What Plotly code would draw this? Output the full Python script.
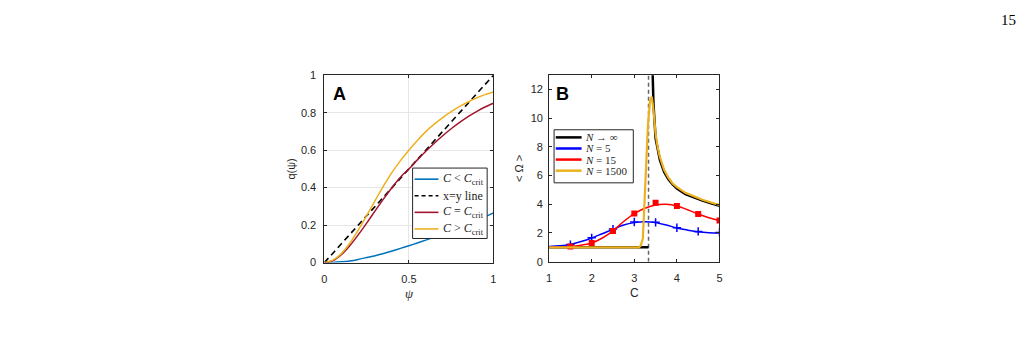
import plotly.graph_objects as go

W, H = 1028, 340

# ---------------- Panel A data ----------------
psi = [0.00, 0.05, 0.10, 0.15, 0.20, 0.25, 0.30, 0.35, 0.40, 0.45, 0.50,
       0.55, 0.60, 0.65, 0.70, 0.75, 0.80, 0.85, 0.90, 0.95, 1.00]
q_below = [0.000, 0.001, 0.004, 0.009, 0.017, 0.027, 0.037, 0.049, 0.062, 0.076, 0.090,
           0.105, 0.120, 0.136, 0.152, 0.168, 0.185, 0.203, 0.223, 0.244, 0.265]
q_crit = [0.000, 0.010, 0.042, 0.090, 0.148, 0.211, 0.276, 0.340, 0.401, 0.456, 0.500,
          0.548, 0.594, 0.637, 0.677, 0.714, 0.748, 0.779, 0.806, 0.830, 0.850]
q_above = [0.000, 0.013, 0.048, 0.103, 0.173, 0.251, 0.331, 0.409, 0.481, 0.544, 0.600,
           0.652, 0.699, 0.739, 0.774, 0.805, 0.833, 0.857, 0.878, 0.896, 0.910]
xy_line = [0.0, 1.0]

# ---------------- Panel B data ----------------
C_crit = 3.334
C_inf = [1.0, C_crit, None, 3.405, 3.42, 3.45, 3.50, 3.55, 3.60, 3.70, 3.80, 3.90,
         4.00, 4.20, 4.40, 4.60, 4.80, 5.00]
omega_inf = [1.0, 1.0, None, 16.0, 13.5, 11.0, 8.6, 7.7, 7.1, 6.25, 5.75, 5.38,
             5.10, 4.70, 4.45, 4.25, 4.07, 3.90]

C_line = [1.00, 1.25, 1.50, 1.75, 2.00, 2.25, 2.50, 2.75, 3.00, 3.25, 3.50,
          3.75, 4.00, 4.25, 4.50, 4.75, 5.00]
omega_n5_line = [1.05, 1.10, 1.20, 1.40, 1.65, 1.95, 2.25, 2.55, 2.72, 2.78, 2.72,
                 2.55, 2.35, 2.20, 2.08, 2.02, 2.00]
omega_n15_line = [1.00, 1.00, 1.05, 1.15, 1.30, 1.65, 2.15, 2.80, 3.35, 3.72, 3.95,
                  4.00, 3.88, 3.62, 3.32, 3.06, 2.86]

C_pts = [1.5, 2.0, 2.5, 3.0, 3.5, 4.0, 4.5, 5.0]
omega_n5_pts = [1.19, 1.66, 2.27, 2.76, 2.74, 2.36, 2.11, 2.04]
omega_n15_pts = [1.05, 1.30, 2.13, 3.36, 4.10, 3.88, 3.32, 2.87]

C_n1500 = [1.00, 3.10, 3.15, 3.20, 3.23, 3.27, 3.32, 3.37, 3.41, 3.45, 3.50, 3.55,
           3.60, 3.70, 3.80, 3.90, 4.00, 4.20, 4.40, 4.60, 4.80, 5.00]
omega_n1500 = [0.99, 0.99, 1.10, 1.60, 3.50, 6.50, 9.50, 11.20, 11.50, 10.60, 8.90, 7.95,
               7.30, 6.40, 5.85, 5.45, 5.20, 4.80, 4.55, 4.32, 4.12, 3.95]

C_dash = [C_crit, C_crit]
omega_dash = [0, 13]

legendA_labels = ["<i>C</i> &lt; <i>C</i><sub>crit</sub>", "x=y line",
                  "<i>C</i> = <i>C</i><sub>crit</sub>", "<i>C</i> &gt; <i>C</i><sub>crit</sub>"]
legendB_labels = ["<i>N</i> → ∞", "<i>N</i> = 5", "<i>N</i> = 15", "<i>N</i> = 1500"]

# colours / styles
cBlueA, cRedA, cYelA = "#0072BD", "#A2142F", "#EDB120"
cBlack, cBlueB, cRedB, cYelB = "#000000", "#0000FF", "#FF0000", "#EDB120"
AXC = "#262626"
SANS = "Liberation Sans, Arial, Helvetica, sans-serif"
SERIF = "Liberation Serif, Times New Roman, serif"


def px(x):
    return x / W


def py(y):
    return 1 - y / H


fig = go.Figure()

# Panel A traces
fig.add_trace(go.Scatter(x=psi, y=q_below, mode="lines", line=dict(color=cBlueA, width=1.5, shape="spline", smoothing=0.6),
                         xaxis="x", yaxis="y", showlegend=False))
fig.add_trace(go.Scatter(x=xy_line, y=xy_line, mode="lines", line=dict(color="#000000", width=1.6, dash="6px,4px"),
                         xaxis="x", yaxis="y", showlegend=False))
fig.add_trace(go.Scatter(x=psi, y=q_crit, mode="lines", line=dict(color=cRedA, width=1.5, shape="spline", smoothing=0.6),
                         xaxis="x", yaxis="y", showlegend=False))
fig.add_trace(go.Scatter(x=psi, y=q_above, mode="lines", line=dict(color=cYelA, width=1.5, shape="spline", smoothing=0.6),
                         xaxis="x", yaxis="y", showlegend=False))

# Panel B traces
fig.add_trace(go.Scatter(x=C_dash, y=omega_dash, mode="lines", line=dict(color="#666666", width=1.5, dash="4px,3px"),
                         xaxis="x2", yaxis="y2", showlegend=False))
fig.add_trace(go.Scatter(x=C_inf, y=omega_inf, mode="lines", line=dict(color=cBlack, width=2.5),
                         connectgaps=False, xaxis="x2", yaxis="y2", showlegend=False))
fig.add_trace(go.Scatter(x=C_line, y=omega_n5_line, mode="lines", line=dict(color=cBlueB, width=1.5, shape="spline"),
                         xaxis="x2", yaxis="y2", showlegend=False))
fig.add_trace(go.Scatter(x=C_pts, y=omega_n5_pts, mode="markers",
                         marker=dict(symbol="cross-thin", size=6, color=cBlueB, line=dict(color=cBlueB, width=1.5)),
                         xaxis="x2", yaxis="y2", showlegend=False))
fig.add_trace(go.Scatter(x=C_line, y=omega_n15_line, mode="lines", line=dict(color=cRedB, width=1.5, shape="spline"),
                         xaxis="x2", yaxis="y2", showlegend=False))
fig.add_trace(go.Scatter(x=C_pts, y=omega_n15_pts, mode="markers",
                         marker=dict(symbol="square", size=6, color=cRedB),
                         xaxis="x2", yaxis="y2", showlegend=False))
fig.add_trace(go.Scatter(x=C_n1500, y=omega_n1500, mode="lines", line=dict(color=cYelB, width=2.2),
                         xaxis="x2", yaxis="y2", showlegend=False))

axis_common = dict(showline=True, linecolor=AXC, linewidth=1, mirror="allticks", ticks="inside",
                   ticklen=3, tickcolor=AXC, tickwidth=1, zeroline=False,
                   tickfont=dict(family=SANS, size=11, color=AXC))

fig.update_layout(
    width=W, height=H, margin=dict(l=0, r=0, t=0, b=0),
    paper_bgcolor="white", plot_bgcolor="white",
    xaxis=dict(domain=[px(323.3), px(493.3)], range=[0, 1], tickvals=[0, 0.5, 1], ticktext=["0", "0.5", "1"],
               showgrid=True, gridcolor="#e6e6e6", gridwidth=1, anchor="y", ticklabelstandoff=6,
               title=dict(text="<i>ψ</i>", font=dict(family=SERIF, size=13, color=AXC), standoff=5),
               **axis_common),
    yaxis=dict(domain=[py(266), py(71.7)], range=[0, 1], tickvals=[0, 0.2, 0.4, 0.6, 0.8, 1],
               ticktext=["0", "0.2", "0.4", "0.6", "0.8", "1"], ticklabelstandoff=5,
               showgrid=True, gridcolor="#e6e6e6", gridwidth=1, anchor="x",
               title=dict(text="q(ψ)", font=dict(family=SANS, size=11, color=AXC), standoff=3),
               **axis_common),
    xaxis2=dict(domain=[px(549.3), px(720.7)], range=[1, 5], tickvals=[1, 2, 3, 4, 5],
                showgrid=False, anchor="y2", ticklabelstandoff=6,
                title=dict(text="C", font=dict(family=SANS, size=12, color=AXC), standoff=5),
                **axis_common),
    yaxis2=dict(domain=[py(265), py(71.7)], range=[0, 13], tickvals=[0, 2, 4, 6, 8, 10, 12],
                showgrid=False, anchor="x2", ticklabelstandoff=3,
                title=dict(text="&lt; Ω &gt;", font=dict(family=SANS, size=11, color=AXC), standoff=4),
                **axis_common),
)

shapes = []
annotations = []

# Legend A (manual)
shapes.append(dict(type="rect", xref="paper", yref="paper", x0=px(412), x1=px(487), y0=py(241), y1=py(168),
                   line=dict(color=AXC, width=1), fillcolor="white", layer="above"))
legA_colors = [cBlueA, "#000000", cRedA, cYelA]
legA_dash = ["solid", "4px,3px", "solid", "solid"]
for i, (lab, col, dsh) in enumerate(zip(legendA_labels, legA_colors, legA_dash)):
    yy = 179.5 + i * 17.2
    shapes.append(dict(type="line", xref="paper", yref="paper", x0=px(414), x1=px(438), y0=py(yy), y1=py(yy),
                       line=dict(color=col, width=1.6, dash=dsh), layer="above"))
    annotations.append(dict(text=lab, xref="paper", yref="paper", x=px(441), y=py(yy), xanchor="left",
                            yanchor="middle", showarrow=False, font=dict(family=SERIF, size=12, color=AXC)))

# Legend B (manual)
shapes.append(dict(type="rect", xref="paper", yref="paper", x0=px(554.3), x1=px(634), y0=py(183.3), y1=py(128.3),
                   line=dict(color=AXC, width=1), fillcolor="white", layer="above"))
legB_colors = [cBlack, cBlueB, cRedB, cYelB]
for i, (lab, col) in enumerate(zip(legendB_labels, legB_colors)):
    yy = 136.2 + i * 11.5
    shapes.append(dict(type="line", xref="paper", yref="paper", x0=px(556), x1=px(582), y0=py(yy), y1=py(yy),
                       line=dict(color=col, width=2.5), layer="above"))
    annotations.append(dict(text=lab, xref="paper", yref="paper", x=px(583), y=py(yy), xanchor="left",
                            yanchor="middle", showarrow=False, font=dict(family=SERIF, size=11, color=AXC)))

# Panel letters
annotations.append(dict(text="<b>A</b>", xref="paper", yref="paper", x=px(338.5), y=py(91.5), showarrow=False,
                        xanchor="center", yanchor="middle", font=dict(family=SANS, size=18, color="#000000")))
annotations.append(dict(text="<b>B</b>", xref="paper", yref="paper", x=px(563), y=py(91.5), showarrow=False,
                        xanchor="center", yanchor="middle", font=dict(family=SANS, size=18, color="#000000")))

# Page number
annotations.append(dict(text="15", xref="paper", yref="paper", x=px(1011), y=py(14), showarrow=False,
                        xanchor="center", yanchor="middle", font=dict(family=SERIF, size=15, color="#000000")))

fig.update_layout(shapes=shapes, annotations=annotations)

fig.write_html("out.html")
